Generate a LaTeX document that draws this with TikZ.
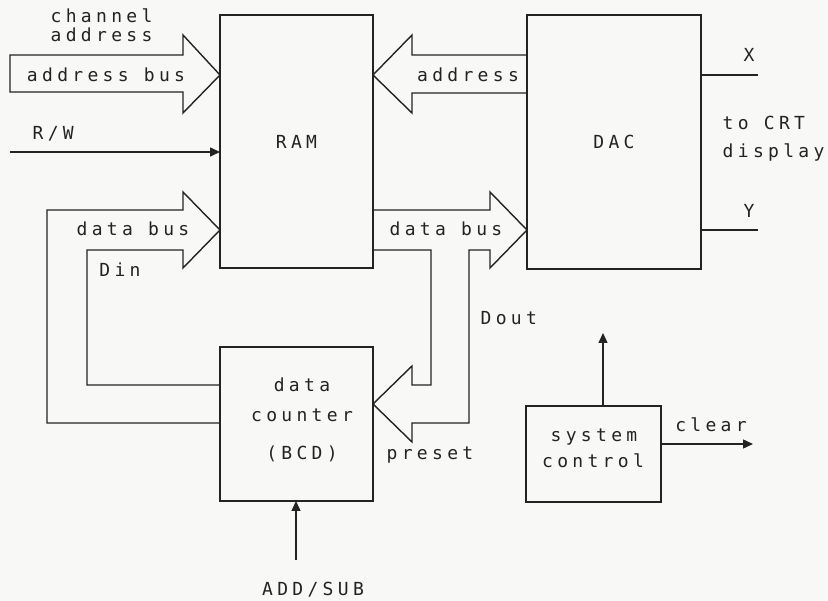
\documentclass[tikz,border=0pt]{standalone}
\usepackage{fontspec}
\newfontfamily\plotfont[LetterSpace=24]{DejaVu Sans Mono}
\usetikzlibrary{arrows.meta}
\definecolor{ink}{RGB}{35,35,35}
\definecolor{paper}{RGB}{248,248,246}
\begin{document}
\begin{tikzpicture}[x=1pt,y=-1pt,line width=1.4pt,
  lbl/.style={font=\plotfont\fontsize{18}{20}\selectfont,text=ink,inner sep=0pt,anchor=base},
  lblw/.style={lbl,anchor=base west},
  box/.style={draw=ink,rectangle,inner sep=0pt,outer sep=0pt,font=\plotfont\fontsize{18}{20}\selectfont,text=ink},
  sig/.style={draw=ink,-{Triangle[length=10pt,width=9pt]}},
  bus/.style={draw=ink,line join=miter}]
\fill[paper] (0,0) rectangle (828,601);
\useasboundingbox (0,0) rectangle (828,601);

% blocks
\node[box,minimum width=153pt,minimum height=253pt] (ram) at (296.5,141.5) {RAM};
\node[box,minimum width=174pt,minimum height=254pt] (dac) at (614,142) {DAC};
\node[box,minimum width=153pt,minimum height=154pt] (cnt) at (296.5,424) {};
\node[box,minimum width=135pt,minimum height=96pt] (sys) at (593.5,454) {};

% texts
\node[lblw] (t1) at (50,23) {channel};
\node[lblw] (t2) at (50,42) {address};
\node[lbl] (t3) at (106,82) {address bus};
\node[lblw] (t4) at (32,140) {R/W};
\node[lbl] (t5) at (468,82) {address};
\node[lbl] (t6) at (749,62) {X};
\node[lbl] (t7) at (749,218) {Y};
\node[lblw] (t8) at (722,130) {to CRT};
\node[lblw] (t9) at (722,158) {display};
\node[lbl] (t10) at (133,236) {data bus};
\node[lbl] (t11) at (446,236) {data bus};
\node[lbl] (t12) at (120,277) {Din};
\node[lblw] (t13) at (480,325) {Dout};
\node[lbl] (t14) at (302,392) {data};
\node[lbl] (t15) at (302,422) {counter};
\node[lbl] (t16) at (302,460) {(BCD)};
\node[lbl] (t17) at (430,460) {preset};
\node[lbl] (t18) at (313,595) {ADD/SUB};
\node[lbl] (t19) at (594,442) {system};
\node[lbl] (t20) at (593,468) {control};
\node[lbl] (t21) at (711,432) {clear};

% bus arrows
\draw[bus] (10,55) -- (183,55) -- (183,35) -- (220,75) -- (183,113) -- (183,92) -- (10,92) -- cycle;
\draw[bus] (527,55) -- (412,55) -- (412,35) -- (373,75) -- (412,113) -- (412,93) -- (527,93);
\draw[bus] (220,423) -- (47,423) -- (47,210) -- (183,210) -- (183,192) -- (220,230)
  -- (183,268) -- (183,250) -- (87,250) -- (87,385) -- (220,385);
\draw[bus] (373,210) -- (490,210) -- (490,192) -- (527,230) -- (490,268) -- (490,250)
  -- (469,250) -- (469,423) -- (412,423) -- (412,442) -- (373,404) -- (412,366)
  -- (412,385) -- (431,385) -- (431,250) -- (373,250);

% signals
\coordinate (rwin) at (10,152);
\draw[sig] (rwin) -- (rwin -| ram.west);
\coordinate (addsub) at (296,560);
\draw[sig] (addsub) -- (addsub |- cnt.south);
\coordinate (sysup) at (603,333);
\draw[sig] (sysup |- sys.north) -- (sysup);
\coordinate (clr) at (753,444);
\draw[sig] (clr -| sys.east) -- (clr);
\coordinate (xo) at (758,75);
\draw[draw=ink] (xo -| dac.east) -- (xo);
\coordinate (yo) at (758,230);
\draw[draw=ink] (yo -| dac.east) -- (yo);
\end{tikzpicture}
\end{document}
